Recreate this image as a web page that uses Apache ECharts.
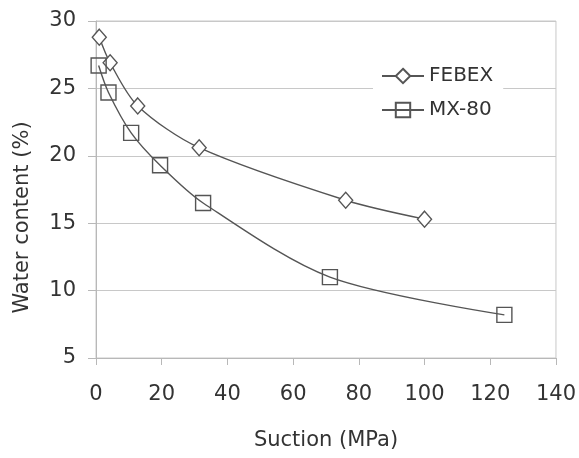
<!DOCTYPE html>
<html>
<head>
<meta charset="utf-8">
<script src="https://cdn.jsdelivr.net/npm/echarts@6/dist/echarts.min.js"></script>
<style>
  html, body { margin: 0; padding: 0; background: #fff; }
  #chart { width: 579px; height: 458px; }
</style>
</head>
<body>
<div id="chart"></div>
<script>
// 数据: 吸力 (MPa) 与含水率 (%)
var febexSuction = [1, 4.3, 12.7, 31.4, 76, 100];
var febexWater = [28.8, 26.9, 23.7, 20.6, 16.7, 15.3];
var mx80Suction = [0.8, 3.8, 10.7, 19.5, 32.6, 71.2, 124.3];
var mx80Water = [26.7, 24.7, 21.7, 19.3, 16.5, 11.0, 8.2];

function pairs(xs, ys) {
    var out = [];
    for (var i = 0; i < xs.length; i++) {
        out.push([xs[i], ys[i]]);
    }
    return out;
}

var font = 'DejaVu Sans';
var textColor = '#333';
var chart = echarts.init(document.getElementById('chart'));

var option = {
    animation: false,
    backgroundColor: '#fff',
    grid: {
        left: 96, right: 21, top: 21, bottom: 100,
        show: true,
        borderColor: '#c8c8c8',
        borderWidth: 1
    },
    legend: {
        orient: 'vertical',
        left: 373, top: 60,
        itemWidth: 42, itemHeight: 18,
        itemGap: 14,
        backgroundColor: '#fff',
        padding: [6, 10, 6, 8],
        textStyle: { fontFamily: font, fontSize: 20, color: textColor },
        data: ['FEBEX', 'MX-80']
    },
    xAxis: {
        type: 'value',
        min: 0, max: 140, interval: 20,
        name: 'Suction (MPa)',
        nameLocation: 'middle',
        nameGap: 72,
        nameTextStyle: { fontFamily: font, fontSize: 21, color: textColor },
        axisLine: { lineStyle: { color: '#b8b8b8' } },
        axisTick: { show: true, length: 7, lineStyle: { color: '#b8b8b8' } },
        axisLabel: { fontFamily: font, fontSize: 21, color: textColor, margin: 26 },
        splitLine: { show: false }
    },
    yAxis: {
        type: 'value',
        min: 5, max: 30, interval: 5,
        name: 'Water content (%)',
        nameLocation: 'middle',
        nameGap: 63,
        nameTextStyle: { fontFamily: font, fontSize: 21, color: textColor, padding: [0, 56, 0, 0] },
        axisLine: { show: true, lineStyle: { color: '#b8b8b8' } },
        axisTick: { show: true, length: 8, lineStyle: { color: '#b8b8b8' } },
        axisLabel: { fontFamily: font, fontSize: 21, color: textColor, margin: 20 },
        splitLine: { show: true, lineStyle: { color: '#c8c8c8' } }
    },
    series: [
        {
            name: 'FEBEX',
            type: 'line',
            smooth: 0.3,
            symbol: 'diamond',
            symbolSize: [14, 16],
            color: '#555',
            lineStyle: { color: '#555', width: 1.4 },
            itemStyle: { color: '#fff', borderColor: '#555', borderWidth: 1.4 },
            data: pairs(febexSuction, febexWater)
        },
        {
            name: 'MX-80',
            type: 'line',
            smooth: 0.3,
            symbol: 'rect',
            symbolSize: 15,
            color: '#555',
            lineStyle: { color: '#555', width: 1.4 },
            itemStyle: { color: 'rgba(255,255,255,0)', borderColor: '#555', borderWidth: 1.4 },
            data: pairs(mx80Suction, mx80Water)
        }
    ]
};
chart.setOption(option);
</script>
</body>
</html>
